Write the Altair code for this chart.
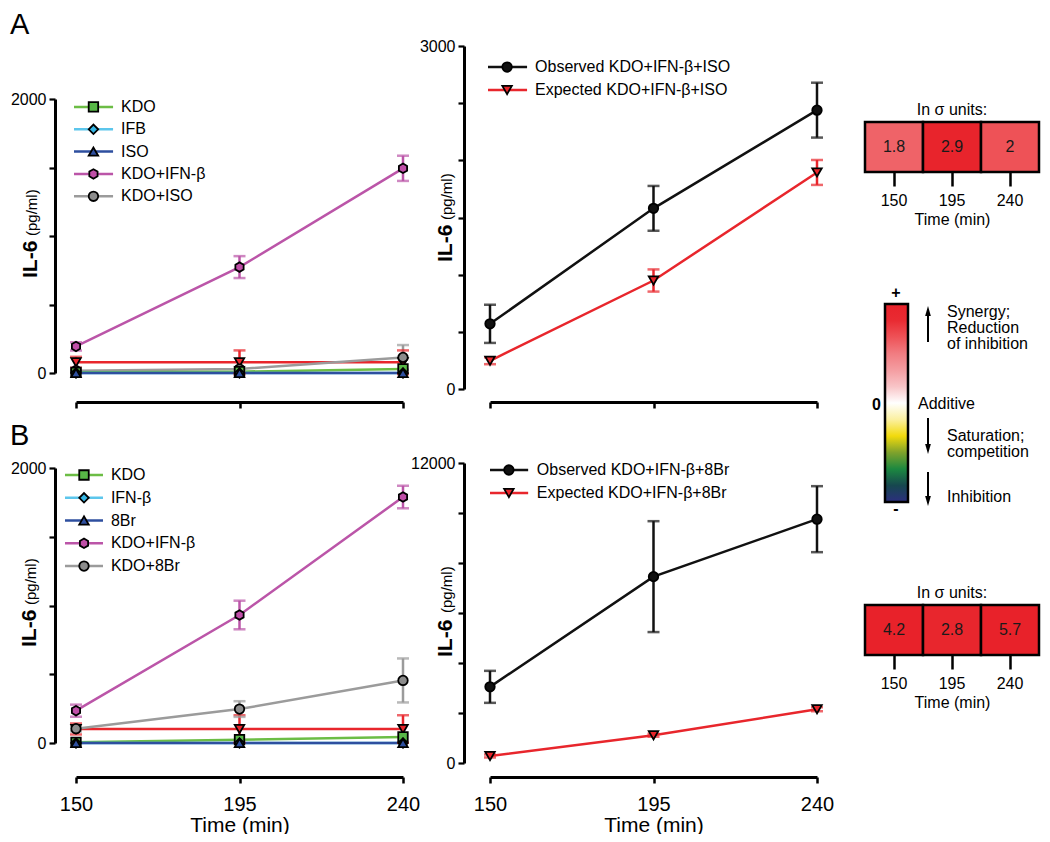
import altair as alt
import pandas as pd

FONT = "Liberation Sans"

# ---------------- data ----------------
TIME = [150, 195, 240]
TIME_LABELS = ["150", "195", "240"]

# Panel A, left (pg/ml)
A_KDO = [5, 10, 30]
A_IFB = [0, 0, 0]
A_ISO = [0, 0, 0]
A_KDO_IFN = [194, 773, 1494]
A_KDO_IFN_ERR = [30, 80, 92]
A_KDO_ISO = [17, 29, 114]
A_KDO_ISO_ERR = [15, 15, 90]
A_RED = [78, 78, 78]
A_RED_ERR = [40, 87, 87]

# Panel A, right
A_OBS = [570, 1580, 2439]
A_OBS_ERR = [167, 196, 240]
A_EXP = [247, 949, 1894]
A_EXP_ERR = [30, 97, 109]

# Panel B, left
B_KDO = [5, 24, 44]
B_IFN = [0, 0, 0]
B_8BR = [0, 0, 0]
B_KDO_IFN = [235, 931, 1789]
B_KDO_IFN_ERR = [44, 104, 82]
B_KDO_8BR = [104, 247, 455]
B_KDO_8BR_ERR = [20, 57, 160]
B_RED = [102, 102, 102]
B_RED_ERR = [40, 100, 100]

# Panel B, right
B_OBS = [3046, 7455, 9753]
B_OBS_ERR = [640, 2218, 1320]
B_EXP = [281, 1109, 2151]
B_EXP_ERR = [60, 60, 80]

# synergy in sigma units
SIGMA_A = [1.8, 2.9, 2]
SIGMA_B = [4.2, 2.8, 5.7]

SIGMA_STOPS = [-3, -2.5, -2, -1.5, -1, -0.5, 0, 0.5, 1, 1.5, 2, 2.5, 3]
SIGMA_COLORS = ["#2c2e7f", "#16474f", "#1c8840", "#7fa22c", "#f2da0c", "#fbf0a0",
                "#ffffff", "#f8c4c7", "#f49da1", "#f17c81", "#ee5257", "#e92b32", "#e8222a"]

# ---------------- styles ----------------
GREEN_L, GREEN_F = "#6cbd45", "#58b847"
CYAN_L, CYAN_F = "#5cc6ec", "#35b6e4"
BLUE = "#2e4f9f"
MAG_L, MAG_F = "#bb55a8", "#c04fa8"
GRAY_L, GRAY_F = "#9b9b9b", "#8c8c8c"
RED = "#e8262c"
BLACK = "#111111"
HEX = "M0,-1L0.866,-0.5L0.866,0.5L0,1L-0.866,0.5L-0.866,-0.5Z"
MSIZE = 90


def S(key, label, values, err, line, fill, shape, rank=None):
    return dict(key=key, label=label, values=values, err=err, line=line,
                fill=fill, shape=shape, rank=rank)


def build_frame(specs):
    rows = []
    for i, s in enumerate(specs):
        errs = s["err"] if s["err"] is not None else [0] * len(TIME)
        for t, v, e in zip(TIME, s["values"], errs):
            rows.append({"key": s["key"], "t": t, "v": v, "lo": v - e,
                         "hi": v + e, "e": e, "order": i})
    return pd.DataFrame(rows)


def panel(specs, xr, yr, ymax, ystep, yoff, xoff, show_x, leg, lfs=16):
    df = build_frame(specs)
    keys = [s["key"] for s in specs]
    xs = alt.Scale(domain=[150, 240], range=xr, nice=False, zero=False)
    ys = alt.Scale(domain=[0, ymax], range=yr, nice=False, zero=False)
    cs = alt.Scale(domain=keys, range=[s["line"] for s in specs])
    fs = alt.Scale(domain=keys, range=[s["fill"] for s in specs])
    ss = alt.Scale(domain=keys, range=[s["shape"] for s in specs])

    if show_x:
        xaxis = alt.Axis(orient="bottom", offset=xoff, values=TIME, format="d",
                         tickSize=6, tickWidth=2.5, domainWidth=3,
                         labelFontSize=20, labelPadding=11, labelFlush=False,
                         title="Time (min)", titleFontSize=21,
                         titleFontWeight="normal", titlePadding=0, grid=False)
    else:
        xaxis = alt.Axis(orient="bottom", offset=xoff, values=TIME, labels=False,
                         tickSize=6, tickWidth=2.5, domainWidth=3,
                         title=None, grid=False)
    yvals = list(range(0, ymax + 1, ystep))
    yaxis = alt.Axis(orient="left", offset=yoff, values=yvals, format="d",
                     labelExpr=f"datum.value == 0 || datum.value == {ymax} ? datum.label : ''",
                     tickSize=6, tickWidth=2.2, domainWidth=3, labelFontSize=16,
                     labelPadding=3, labelFlush=False, labelOverlap=False,
                     grid=False, title=None)

    def X(f):
        return alt.X(f"{f}:Q", scale=xs, axis=xaxis)

    def Y(f):
        return alt.Y(f"{f}:Q", scale=ys, axis=yaxis)

    base = alt.Chart(df)
    C = alt.Color("key:N", scale=cs, legend=None)
    F = alt.Fill("key:N", scale=fs, legend=None)
    SH = alt.Shape("key:N", scale=ss, legend=None)

    lines = base.mark_line(strokeWidth=2.5).encode(
        x=X("t"), y=Y("v"), color=C, order=alt.Order("t:Q"))
    err = base.transform_filter("datum.e > 0")
    bars = err.mark_rule(strokeWidth=2.5).encode(
        x=X("t"), y=Y("lo"), y2="hi:Q", color=C)
    caps = err.transform_fold(["lo", "hi"], as_=["end", "cap"]).mark_tick(
        orient="horizontal", size=12, thickness=2.5).encode(
        x=X("t"), y=Y("cap"), color=C)
    pts = base.mark_point(filled=True, opacity=1, stroke="black",
                          strokeWidth=1.8, size=MSIZE).encode(
        x=X("t"), y=Y("v"), fill=F, shape=SH, order=alt.Order("order:Q"))

    lab = sorted([s for s in specs if s["label"]], key=lambda s: s["rank"])
    ldf = pd.DataFrame({
        "key": [s["key"] for s in lab],
        "label": [s["label"] for s in lab],
        "ly": [leg["top"] - i * leg["step"] for i in range(len(lab))],
        "lx1": leg["x1"], "lx2": leg["x2"], "lxm": leg["xm"], "lxt": leg["xt"],
    })
    lbase = alt.Chart(ldf)
    lrule = lbase.mark_rule(strokeWidth=2.5).encode(
        x=X("lx1"), x2="lx2:Q", y=Y("ly"), color=C)
    lpts = lbase.mark_point(filled=True, opacity=1, stroke="black",
                            strokeWidth=1.8, size=MSIZE).encode(
        x=X("lxm"), y=Y("ly"), fill=F, shape=SH)
    ltxt = lbase.mark_text(align="left", baseline="middle", fontSize=lfs,
                           font=FONT, color="black").encode(
        x=X("lxt"), y=Y("ly"), text="label:N")
    return alt.layer(lines, bars, caps, pts, lrule, lpts, ltxt)


COLOR_SCALE = alt.Scale(domain=SIGMA_STOPS, range=SIGMA_COLORS, clamp=True,
                        interpolate="rgb")


def heat(values, yr, xoff, legend):
    df = pd.DataFrame({"time": TIME_LABELS, "sigma": values,
                       "label": [f"{v:g}" for v in values],
                       "y0": [0] * 3, "y1": [1] * 3, "ym": [0.5] * 3})
    xs = alt.Scale(domain=TIME_LABELS, range=[857, 1031], paddingInner=0,
                   paddingOuter=0)
    ys = alt.Scale(domain=[0, 1], range=yr, nice=False, zero=False)
    xaxis = alt.Axis(orient="bottom", offset=xoff, domain=False, tickSize=14,
                     tickWidth=2.5, labelFontSize=16, labelPadding=6,
                     labelAngle=0, title="Time (min)", titleFontSize=16,
                     titleFontWeight="normal", titlePadding=3, grid=False)

    def X():
        return alt.X("time:N", scale=xs, axis=xaxis, sort=TIME_LABELS)

    def Y(f):
        return alt.Y(f"{f}:Q", scale=ys, axis=None)

    if legend:
        col = alt.Color("sigma:Q", scale=COLOR_SCALE, legend=alt.Legend(
            orient="none", legendX=877, legendY=296, direction="vertical",
            gradientLength=198, gradientThickness=23, title=None, padding=0,
            labelExpr="''", gradientStrokeColor="black",
            gradientStrokeWidth=2.5, tickCount=60))
    else:
        col = alt.Color("sigma:Q", scale=COLOR_SCALE, legend=None)
    rect = alt.Chart(df).mark_rect(stroke="black", strokeWidth=2.5).encode(
        x=X(), y=Y("y0"), y2="y1:Q", color=col)
    txt = alt.Chart(df).mark_text(fontSize=16, font=FONT, color="#1a1a1a").encode(
        x=X(), y=Y("ym"), text="label:N")
    tdf = pd.DataFrame({"time": ["195"], "yt": [1.24], "label": ["In σ units:"]})
    ttl = alt.Chart(tdf).mark_text(fontSize=16, font=FONT, color="black",
                                   baseline="middle").encode(
        x=X(), y=Y("yt"), text="label:N")
    return alt.layer(rect, txt, ttl)


ONE = pd.DataFrame({"a": [0]})


def note(text, x, y, size=16, weight="normal", align="left",
         baseline="middle", angle=0):
    kw = dict(text=text, font=FONT, fontSize=size, fontWeight=weight,
              align=align, baseline=baseline, color="black")
    if angle:
        kw["angle"] = angle
    return alt.Chart(ONE).mark_text(**kw).encode(
        x=alt.value(x - 8), y=alt.value(y - 8))


def arrow(x, y_from, y_tip):
    up = y_tip < y_from
    r = 5.2
    center = y_tip + r if up else y_tip - r
    shape = ("M0,-1L0.55,0.9L-0.55,0.9Z" if up else "M0,1L0.55,-0.9L-0.55,-0.9Z")
    rule = alt.Chart(ONE).mark_rule(strokeWidth=2, color="black").encode(
        x=alt.value(x - 8), y=alt.value(y_from - 8), y2=alt.value(center - 8))
    head = alt.Chart(ONE).mark_point(shape=shape, filled=True, color="black",
                                     opacity=1, size=108).encode(
        x=alt.value(x - 8), y=alt.value(center - 8))
    return [rule, head]


# ---------------- panels ----------------
al_specs = [
    S("a_red", None, A_RED, A_RED_ERR, RED, RED, "triangle-down"),
    S("a_kdo_iso", "KDO+ISO", A_KDO_ISO, A_KDO_ISO_ERR, GRAY_L, GRAY_F, "circle", 4),
    S("a_kdo", "KDO", A_KDO, None, GREEN_L, GREEN_F, "square", 0),
    S("a_ifb", "IFB", A_IFB, None, CYAN_L, CYAN_F, "diamond", 1),
    S("a_iso", "ISO", A_ISO, None, BLUE, BLUE, "triangle-up", 2),
    S("a_kdo_ifn", "KDO+IFN-β", A_KDO_IFN, A_KDO_IFN_ERR, MAG_L, MAG_F, HEX, 3),
]
ar_specs = [
    S("a_exp", "Expected KDO+IFN-β+ISO", A_EXP, A_EXP_ERR, RED, RED, "triangle-down", 1),
    S("a_obs", "Observed KDO+IFN-β+ISO", A_OBS, A_OBS_ERR, BLACK, BLACK, "circle", 0),
]
bl_specs = [
    S("b_red", None, B_RED, B_RED_ERR, RED, RED, "triangle-down"),
    S("b_kdo_8br", "KDO+8Br", B_KDO_8BR, B_KDO_8BR_ERR, GRAY_L, GRAY_F, "circle", 4),
    S("b_kdo", "KDO", B_KDO, None, GREEN_L, GREEN_F, "square", 0),
    S("b_ifn", "IFN-β", B_IFN, None, CYAN_L, CYAN_F, "diamond", 1),
    S("b_8br", "8Br", B_8BR, None, BLUE, BLUE, "triangle-up", 2),
    S("b_kdo_ifn", "KDO+IFN-β", B_KDO_IFN, B_KDO_IFN_ERR, MAG_L, MAG_F, HEX, 3),
]
br_specs = [
    S("b_exp", "Expected KDO+IFN-β+8Br", B_EXP, B_EXP_ERR, RED, RED, "triangle-down", 1),
    S("b_obs", "Observed KDO+IFN-β+8Br", B_OBS, B_OBS_ERR, BLACK, BLACK, "circle", 0),
]

AL = panel(al_specs, [68, 395], [365, 91], 2000, 500, -47, -432, False,
           dict(top=1942, step=163, x1=149.45, x2=160.2, xm=154.8, xt=162.4))
AR = panel(ar_specs, [482, 809], [381, 38], 3000, 500, -456, -432, False,
           dict(top=2816, step=201, x1=149.45, x2=160.2, xm=154.7, xt=162.4))
BL = panel(bl_specs, [68, 395], [735, 460], 2000, 500, -47, -57, True,
           dict(top=1949, step=165.5, x1=146.97, x2=157.43, xm=152.2, xt=159.6))
BR = panel(br_specs, [482, 809], [755, 455], 12000, 2000, -456, -57, True,
           dict(top=11720, step=920, x1=150, x2=160.5, xm=155.2, xt=162.9))

HA = heat(SIGMA_A, [164, 114], -662, True)
HB = heat(SIGMA_B, [647, 597], -179, False)

notes = [
    note("A", 10, 34, size=29, baseline="alphabetic"),
    note("B", 10, 445, size=29, baseline="alphabetic"),
    note("IL-6", 37, 278, size=21, weight="bold", baseline="alphabetic", angle=270),
    note("(pg/ml)", 37, 236, size=15, baseline="alphabetic", angle=270),
    note("IL-6", 452, 262, size=21, weight="bold", baseline="alphabetic", angle=270),
    note("(pg/ml)", 452, 220, size=15, baseline="alphabetic", angle=270),
    note("IL-6", 36, 647, size=21, weight="bold", baseline="alphabetic", angle=270),
    note("(pg/ml)", 36, 605, size=15, baseline="alphabetic", angle=270),
    note("IL-6", 452, 657, size=21, weight="bold", baseline="alphabetic", angle=270),
    note("(pg/ml)", 452, 613, size=15, baseline="alphabetic", angle=270),
    note("+", 896, 293, weight="bold", align="center"),
    note("-", 896, 509, weight="bold", align="center"),
    note("0", 881, 405, weight="bold", align="right"),
    note("Synergy;", 947, 312),
    note("Reduction", 947, 328),
    note("of inhibition", 947, 344),
    note("Additive", 918, 404),
    note("Saturation;", 947, 436),
    note("competition", 947, 452),
    note("Inhibition", 947, 497),
]
arrows = arrow(928, 342, 306) + arrow(928, 418, 454) + arrow(928, 472, 506)

chart = alt.layer(AL, AR, BL, BR, HA, HB, *notes, *arrows).resolve_scale(
    x="independent", y="independent", color="independent",
    fill="independent", shape="independent",
).properties(
    width=1034, height=826, padding=0,
    autosize=alt.AutoSizeParams(type="none"),
).configure_view(stroke=None).configure_axis(
    labelFont=FONT, titleFont=FONT, labelColor="black", titleColor="black",
    domainColor="black", tickColor="black",
)

chart.save("out.html", embed_options={"renderer": "svg", "actions": False})
